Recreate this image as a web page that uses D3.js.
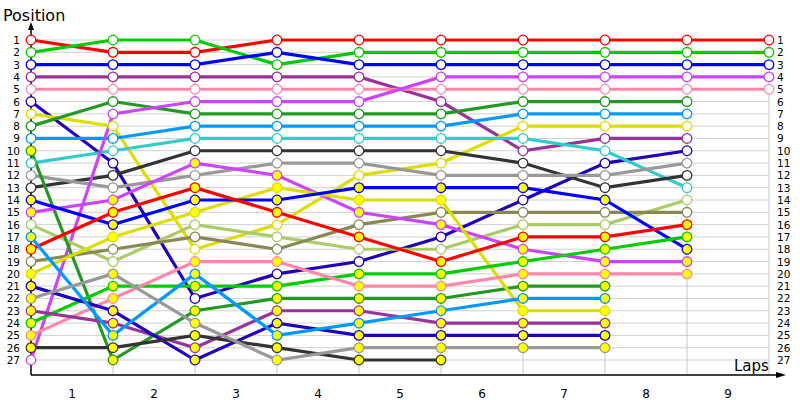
<!DOCTYPE html>
<html><head><meta charset="utf-8">
<script src="https://cdn.jsdelivr.net/npm/d3@7"></script>
<style>body{margin:0;background:#fff}text{font-family:"DejaVu Sans",sans-serif}</style>
</head><body><svg id="c" width="800" height="400"></svg>
<script>
const laps = [0,1,2,3,4,5,6,7,8,9];
const lapLabels = ["1","2","3","4","5","6","7","8","9"];
const positions = d3.range(1,28);
const seriesNames = ["red","green","blue","purple","pink","dkblue","yellowA","dkgreen","ltblue","cyan","black","gray","magenta","lightgreen","olive",
 "dkgreen2","magenta2","yellowB","blue2","red2","green2","pink2","purple2","dkblue2","ltblue2","black2","gray2"];
const seriesColors = ["#ff0000","#00cc00","#0000ff","#993399","#ff88aa","#2200bb","#dddd00","#229922","#0099ff","#33cccc","#333333","#999999","#cc44ff","#aacc66","#888855",
 "#229922","#cc44ff","#dddd00","#0000ff","#ff0000","#00cc00","#ff88aa","#993399","#2200bb","#0099ff","#333333","#999999"];
const seriesFilled = [0,0,0,0,0,0,0,0,0,0,0,0,0,0,0, 1,1,1,1,1,1,1,1,1,1,1,1];
const seriesValues = [
 [1,2,2,1,1,1,1,1,1,1],
 [2,1,1,3,2,2,2,2,2,2],
 [3,3,3,2,3,3,3,3,3,3],
 [4,4,4,4,4,6,10,9,9,null],
 [5,5,5,5,5,5,5,5,5,5],
 [6,11,22,20,19,17,14,11,10,null],
 [7,8,18,16,12,11,8,8,8,null],
 [8,6,7,7,7,7,6,6,6,null],
 [9,9,8,8,8,8,7,7,7,null],
 [11,10,9,9,9,9,9,10,13,null],
 [13,12,10,10,10,10,11,13,12,null],
 [12,13,12,11,11,12,12,12,11,null],
 [27,7,6,6,6,4,4,4,4,4],
 [16,19,16,17,18,18,16,16,14,null],
 [19,18,17,18,16,15,15,15,15,null],
 [10,27,23,22,22,22,21,21,null,null],
 [15,14,11,12,15,16,18,19,19,null],
 [20,17,15,13,14,14,23,23,null,null],
 [14,16,14,14,13,13,13,14,18,null],
 [18,15,13,15,17,19,17,17,16,null],
 [24,21,21,21,20,20,19,18,17,null],
 [25,22,19,19,21,21,20,20,20,null],
 [23,24,26,23,23,24,24,24,null,null],
 [21,23,27,24,25,25,25,25,null,null],
 [17,25,20,25,24,23,22,22,null,null],
 [26,26,25,26,27,27,null,null,null,null],
 [22,20,24,27,26,26,26,26,null,null]
];
const svg = d3.select("#c");
const x = d3.scaleLinear().domain([0,9]).range([31,769]);
const y = d3.scaleLinear().domain([1,27]).range([40,360]);
const g = svg.append("g");
g.selectAll(".hg").data(positions).join("line").attr("x1",x(0)).attr("x2",x(9)).attr("y1",d=>y(d)).attr("y2",d=>y(d)).attr("stroke","#d0d0d0");
g.selectAll(".vg").data(laps.slice(1)).join("line").attr("x1",d=>x(d)).attr("x2",d=>x(d)).attr("y1",y(1)).attr("y2",375).attr("stroke","#c8c8c8");
g.append("line").attr("x1",31).attr("x2",31).attr("y1",375).attr("y2",26).attr("stroke","#000").attr("stroke-width",1.5);
g.append("path").attr("d","M31,22 L28,30 L34,30 Z").attr("fill","#000");
g.append("line").attr("x1",31).attr("x2",780).attr("y1",375).attr("y2",375).attr("stroke","#000").attr("stroke-width",1.5);
g.append("path").attr("d","M786,375 L776,372 L776,378 Z").attr("fill","#000");
svg.append("text").attr("x",3).attr("y",21).attr("font-size",16).text("Position");
svg.append("text").attr("x",734).attr("y",371).attr("font-size",15).text("Laps");
svg.selectAll(".ll").data(lapLabels).join("text").attr("x",(d,i)=>(x(i)+x(i+1))/2).attr("y",398).attr("text-anchor","middle").attr("font-size",12).text(d=>d);
svg.selectAll(".yl").data(positions).join("text").attr("x",20).attr("y",d=>y(d)+4).attr("text-anchor","end").attr("font-size",10.5).text(d=>d);
svg.selectAll(".yr").data(positions).join("text").attr("x",777).attr("y",d=>y(d)+4).attr("font-size",10.5).text(d=>d);
g.selectAll(".tk").data(positions).join("line").attr("x1",28).attr("x2",34).attr("y1",d=>y(d)).attr("y2",d=>y(d)).attr("stroke","#000");
const line = d3.line().defined(d=>d!=null).x((d,i)=>x(i)).y(d=>y(d));
seriesValues.forEach((vals,s)=>{
  g.append("path").datum(vals).attr("d",line).attr("fill","none").attr("stroke",seriesColors[s]).attr("stroke-width",3.2);
});
seriesValues.forEach((vals,s)=>{
  g.selectAll(null).data(vals.map((v,i)=>[i,v]).filter(d=>d[1]!=null)).join("circle")
   .attr("cx",d=>x(d[0])).attr("cy",d=>y(d[1])).attr("r",4.8)
   .attr("fill",seriesFilled[s]?"#ffff00":"#fff").attr("stroke",seriesColors[s]).attr("stroke-width",1.3);
});
</script></body></html>
